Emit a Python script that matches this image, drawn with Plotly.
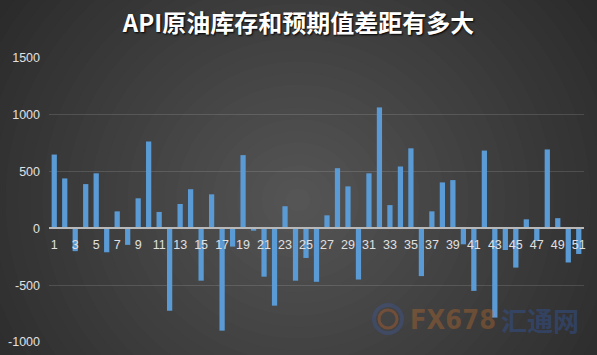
import plotly.graph_objects as go

categories = list(range(1, 52))
values = [650, 440, -200, 390, 485, -210, 150, -145, 265, 765,
          145, -725, 215, 345, -460, 300, -900, -160, 645, -20,
          -425, -680, 195, -460, -260, -470, 115, 530, 370, -450,
          485, 1065, 205, 545, 705, -420, 150, 405, 425, -140,
          -550, 685, -785, -190, -345, 80, -110, 695, 90, -300, -225]
y_ticks = [-1000, -500, 0, 500, 1000, 1500]
y_ticktext = ["-1000", "-500", "0", "500", "1000", "1500"]
x_ticks = [c for c in categories if c % 2 == 1]
title_text = "API原油库存和预期值差距有多大"

W, H = 597, 355
ml, mr, mt, mb = 49, 13, 58, 13
pw, ph = W - ml - mr, H - mt - mb

def px2paper(x, y):
    return (x - ml) / pw, (H - mb - y) / ph

# radial background gradient via concentric circles
shapes = []
cx, cy = 298, 200
N = 32
for k in range(N):
    r = 1 - k / N
    rx, ry = 390 * r, 370 * r
    x0, y1 = px2paper(cx - rx, cy - ry)
    x1, y0 = px2paper(cx + rx, cy + ry)
    v = int(round(0x56 - 46 * r))
    shapes.append(dict(type="circle", xref="paper", yref="paper",
                       x0=x0, x1=x1, y0=y0, y1=y1, layer="below",
                       line=dict(width=0), fillcolor=f"rgb({v},{v},{v})"))

# faint watermark logo ring
for rad, col, w in [(14, "rgba(60,90,160,0.35)", 4), (9, "rgba(200,100,40,0.35)", 3)]:
    x0, y1 = px2paper(388 - rad, 319 - rad)
    x1, y0 = px2paper(388 + rad, 319 + rad)
    shapes.append(dict(type="circle", xref="paper", yref="paper",
                       x0=x0, x1=x1, y0=y0, y1=y1, layer="below",
                       line=dict(width=w, color=col)))

fig = go.Figure()
fig.add_trace(go.Bar(
    x=categories, y=values,
    marker=dict(color="#5b9bd5", line=dict(width=0)),
    hoverinfo="x+y",
))

ax, ay = px2paper(453, 319)
bx, by = px2paper(540, 319)

fig.update_layout(
    width=W, height=H,
    margin=dict(l=ml, r=mr, t=mt, b=mb, autoexpand=False),
    paper_bgcolor="#282828",
    plot_bgcolor="rgba(0,0,0,0)",
    bargap=0.5,
    showlegend=False,
    shapes=shapes,
    title=dict(text=title_text, x=0.5, xref="container", xanchor="center",
               y=1 - 24 / H, yanchor="middle", yref="container",
               font=dict(family="Noto Sans CJK SC", size=24, color="white",
                         weight="bold", shadow="1px 1px 2px #000")),
    xaxis=dict(
        range=[0.5, 51.5], tickmode="array", tickvals=x_ticks,
        anchor="free", position=1000 / 2500, automargin=False,
        showline=True, linecolor="#b8b8b8", linewidth=1.5,
        showgrid=False, zeroline=False, ticks="",
        tickfont=dict(family="Liberation Sans", size=12.5, color="#e0e0e0"),
        ticklabelstandoff=5,
    ),
    yaxis=dict(
        range=[-1000, 1500], tickmode="array", tickvals=y_ticks,
        ticktext=y_ticktext, showgrid=True, automargin=False,
        gridcolor="rgba(255,255,255,0.13)", gridwidth=1,
        zeroline=False, showline=False, ticks="",
        tickfont=dict(family="Liberation Sans", size=12.5, color="#e0e0e0"),
        ticklabelstandoff=8,
    ),
    annotations=[
        dict(text="FX678", x=ax, y=ay, xref="paper", yref="paper", showarrow=False,
             xanchor="center", yanchor="middle",
             font=dict(family="DejaVu Sans Condensed, Liberation Sans", size=27,
                       color="rgba(200,110,40,0.35)", weight="bold")),
        dict(text="汇通网", x=bx, y=by, xref="paper", yref="paper", showarrow=False,
             xanchor="center", yanchor="middle",
             font=dict(family="Noto Sans CJK SC", size=26,
                       color="rgba(50,90,170,0.4)", weight="bold")),
    ],
)

fig.write_html("out.html")
